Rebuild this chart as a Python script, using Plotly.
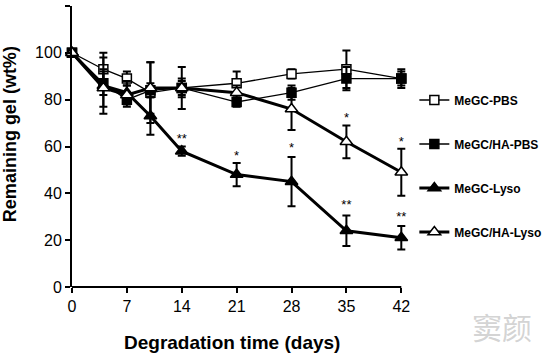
import plotly.graph_objects as go

days = [0, 4, 7, 10, 14, 21, 28, 35, 42]
x_ticks = [0, 7, 14, 21, 28, 35, 42]
y_ticks = [0, 20, 40, 60, 80, 100, 120]

names = ["MeGC-PBS", "MeGC/HA-PBS", "MeGC-Lyso", "MeGC/HA-Lyso"]
pbs = [100, 93, 89, 83, 85, 87, 91, 93, 89]
pbs_err = [0, 7, 3, 13, 9, 5, 2, 8, 4]
ha_pbs = [100, 87, 80, 84, 85, 79, 83, 89, 89]
ha_pbs_err = [0, 5, 3, 3, 3, 2, 3, 5, 3]
lyso = [100, 86, 83, 73, 58, 48, 45, 24, 21]
lyso_err = [0, 12, 5, 8, 2, 5, 10.5, 6.5, 5]
ha_lyso = [100, 85, 82, 85, 85, 83, 76, 62, 49]
ha_lyso_err = [0, 8, 4, 11, 4, 3, 9, 7, 10]

star_x = [14, 21, 28, 35, 35, 42, 42]
star_y = [63, 55.5, 59, 72, 34.5, 61.5, 29.5]
star_txt = ["**", "*", "*", "*", "**", "*", "**"]

FONT = "Liberation Sans"

fig = go.Figure()

styles = [
    (pbs, pbs_err, "square", "white", 1.3, 9),
    (ha_pbs, ha_pbs_err, "square", "black", 1.3, 9),
    (lyso, lyso_err, "triangle-up", "black", 3, 11),
    (ha_lyso, ha_lyso_err, "triangle-up", "white", 3, 11),
]
for i, (vals, err, sym, fill, lw, ms) in enumerate(styles):
    fig.add_trace(go.Scatter(
        x=days, y=vals, name="<b>" + names[i] + "</b>", mode="lines+markers",
        line=dict(color="black", width=lw),
        marker=dict(symbol=sym, size=ms, color=fill, line=dict(color="black", width=1.5)),
        error_y=dict(type="data", array=err, visible=True, color="black", thickness=2, width=4),
        cliponaxis=False, legendgroup=str(i),
    ))

fig.add_trace(go.Scatter(
    x=star_x, y=star_y, text=star_txt, mode="text", showlegend=False,
    textfont=dict(family=FONT, size=13, color="black"), cliponaxis=False,
))

# x-axis baseline from 0 to 42 only
fig.add_shape(type="line", xref="x", yref="paper", x0=0, x1=42, y0=0, y1=0,
              line=dict(color="black", width=2), layer="above")

# axis titles
fig.add_annotation(x=0, y=0.544, xref="paper", yref="paper", xanchor="center", yanchor="middle",
                   xshift=-62, textangle=-90, showarrow=False,
                   text="<b>Remaining gel (wt%)</b>",
                   font=dict(family=FONT, size=18, color="black"))
fig.add_annotation(x=0.478, y=0, xref="paper", yref="paper", xanchor="center", yanchor="middle",
                   yshift=-55, showarrow=False,
                   text="<b>Degradation time (days)</b>",
                   font=dict(family=FONT, size=19, color="black"))

# watermark
fig.add_annotation(x=1.0, y=0.0, xref="paper", yref="paper", xanchor="center", yanchor="middle",
                   text="窦颜", showarrow=False, xshift=96, yshift=-39,
                   font=dict(family="Noto Sans CJK SC", size=30, color="rgba(200,200,200,0.8)"))

axis_common = dict(ticks="outside", tickcolor="black", tickwidth=2, ticklen=5,
                   showgrid=False, zeroline=False, automargin=False,
                   tickfont=dict(family=FONT, size=16, color="black"))

fig.update_xaxes(range=[0, 42.6], tickvals=x_ticks, showline=False,
                 tickprefix="<b>", ticksuffix="</b>", **axis_common)
fig.update_yaxes(range=[0, 120], tickvals=y_ticks, showline=True, linecolor="black", linewidth=2,
                 tickprefix="<b>", ticksuffix="</b>", **axis_common)

fig.update_layout(
    width=554, height=356,
    margin=dict(l=72, r=148, t=6, b=69, autoexpand=False),
    plot_bgcolor="white", paper_bgcolor="white",
    showlegend=True,
    legend=dict(x=1.025, y=0.717, xanchor="left", yanchor="top", tracegroupgap=25,
                font=dict(family=FONT, size=12, color="black"),
                itemwidth=30, bgcolor="rgba(0,0,0,0)"),
)

fig.write_html("out.html", config={"displayModeBar": False},
               post_script="document.body.style.margin='0';")
